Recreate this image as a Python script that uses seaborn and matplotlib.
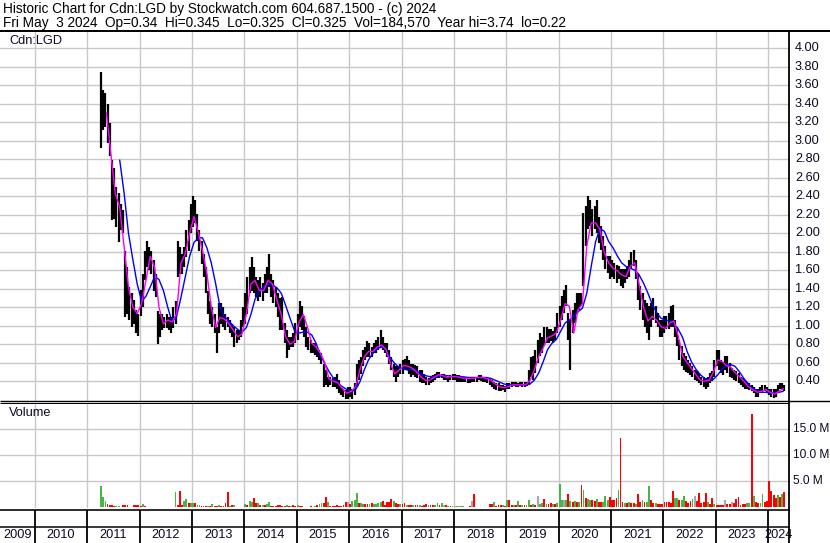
import numpy as np
import pandas as pd
import matplotlib
matplotlib.use("Agg")
import matplotlib.pyplot as plt
import matplotlib.transforms as mtrans
from matplotlib.lines import Line2D
import seaborn as sns

# ---------------------------------------------------------------- data
# Half-monthly price range (periods start on the 1st / 15th), Apr 2011 .. May 2024
high = [
    # 2011 (from Apr 1)
    3.74, 3.55, 3.51, 3.40, 3.19, 2.79, 2.70, 2.50, 2.43, 2.32, 2.25, 1.81, 1.63, 1.42, 1.35, 1.28, 1.17, 1.13,
    # 2012
    1.39, 1.56, 1.81, 1.92, 1.85, 1.81, 1.71, 1.56, 1.16, 1.13, 1.13, 1.09, 1.13, 1.09, 1.09, 1.20, 1.27, 1.92, 1.85, 1.78, 1.85, 2.03, 2.14, 2.32,
    # 2013
    2.40, 2.36, 2.21, 2.03, 1.92, 1.78, 1.63, 1.38, 1.27, 1.20, 1.13, 0.99, 1.24, 1.24, 1.20, 1.13, 1.09, 1.06, 1.02, 0.99, 0.95, 0.95, 1.06, 1.20,
    # 2014
    1.35, 1.53, 1.63, 1.74, 1.63, 1.53, 1.49, 1.53, 1.46, 1.56, 1.63, 1.78, 1.56, 1.49, 1.42, 1.35, 1.30, 1.31, 1.03, 0.95, 0.88, 0.88, 0.92, 1.03,
    # 2015
    1.13, 1.27, 1.21, 1.10, 0.99, 0.88, 0.84, 0.81, 0.81, 0.77, 0.74, 0.70, 0.59, 0.52, 0.45, 0.45, 0.43, 0.45, 0.48, 0.41, 0.34, 0.32, 0.30, 0.34,
    # 2016
    0.34, 0.32, 0.38, 0.59, 0.63, 0.66, 0.74, 0.77, 0.83, 0.81, 0.77, 0.81, 0.84, 0.88, 0.95, 0.88, 0.81, 0.81, 0.74, 0.66, 0.59, 0.56, 0.56, 0.59,
    # 2017
    0.63, 0.64, 0.67, 0.63, 0.59, 0.59, 0.57, 0.56, 0.52, 0.52, 0.48, 0.45, 0.43, 0.45, 0.47, 0.48, 0.50, 0.50, 0.48, 0.48, 0.47, 0.45, 0.47, 0.48,
    # 2018
    0.48, 0.47, 0.47, 0.45, 0.45, 0.45, 0.45, 0.44, 0.45, 0.45, 0.45, 0.47, 0.47, 0.45, 0.45, 0.45, 0.43, 0.41, 0.39, 0.38, 0.38, 0.36, 0.36, 0.35,
    # 2019
    0.38, 0.38, 0.39, 0.39, 0.39, 0.38, 0.39, 0.39, 0.39, 0.39, 0.52, 0.66, 0.67, 0.74, 0.85, 0.92, 0.88, 0.99, 0.99, 0.96, 0.96, 0.94, 0.99, 1.14,
    # 2020
    1.21, 1.32, 1.39, 1.44, 1.14, 1.06, 1.17, 1.24, 1.35, 1.35, 1.35, 2.22, 2.29, 2.40, 2.36, 2.26, 2.29, 2.36, 2.18, 2.08, 1.97, 1.86, 1.75, 1.75,
    # 2021
    1.71, 1.68, 1.66, 1.64, 1.61, 1.61, 1.61, 1.64, 1.71, 1.80, 1.82, 1.71, 1.57, 1.43, 1.35, 1.28, 1.24, 1.21, 1.24, 1.30, 1.21, 1.14, 1.06, 1.06,
    # 2022
    1.10, 1.10, 1.14, 1.21, 1.22, 1.06, 0.99, 0.85, 0.78, 0.70, 0.67, 0.63, 0.60, 0.56, 0.52, 0.51, 0.49, 0.45, 0.45, 0.43, 0.45, 0.49, 0.51, 0.63,
    # 2023
    0.74, 0.74, 0.63, 0.61, 0.67, 0.67, 0.60, 0.54, 0.52, 0.51, 0.49, 0.45, 0.43, 0.41, 0.39, 0.38, 0.36, 0.34, 0.32, 0.32, 0.34, 0.36, 0.36, 0.34,
    # 2024
    0.32, 0.31, 0.31, 0.32, 0.36, 0.38, 0.38, 0.36,
]
low = [
    # 2011
    2.92, 3.12, 3.15, 2.97, 2.83, 2.14, 2.15, 2.07, 1.90, 2.03, 2.00, 1.09, 1.13, 1.06, 0.99, 1.02, 0.92, 0.89,
    # 2012
    1.10, 1.20, 1.49, 1.63, 1.60, 1.56, 1.38, 1.31, 0.80, 0.88, 0.95, 0.98, 0.98, 0.95, 0.92, 0.98, 1.02, 1.53, 1.56, 1.56, 1.63, 1.74, 1.81, 2.00,
    # 2013
    2.07, 2.11, 1.92, 1.81, 1.67, 1.53, 1.35, 1.13, 1.02, 0.99, 0.92, 0.70, 0.92, 1.02, 0.99, 0.95, 0.99, 0.92, 0.88, 0.77, 0.81, 0.84, 0.88, 0.99,
    # 2014
    1.02, 1.13, 1.35, 1.38, 1.35, 1.31, 1.27, 1.31, 1.27, 1.35, 1.35, 1.42, 1.31, 1.24, 1.20, 1.09, 0.95, 0.95, 0.81, 0.65, 0.74, 0.77, 0.77, 0.81,
    # 2015
    0.84, 0.99, 0.95, 0.88, 0.77, 0.74, 0.70, 0.70, 0.68, 0.66, 0.63, 0.59, 0.34, 0.36, 0.34, 0.36, 0.34, 0.34, 0.31, 0.27, 0.25, 0.23, 0.21, 0.21,
    # 2016
    0.23, 0.21, 0.25, 0.34, 0.41, 0.48, 0.56, 0.63, 0.66, 0.66, 0.66, 0.70, 0.70, 0.74, 0.77, 0.74, 0.70, 0.66, 0.59, 0.52, 0.45, 0.39, 0.45, 0.48,
    # 2017
    0.48, 0.52, 0.52, 0.48, 0.45, 0.47, 0.45, 0.43, 0.39, 0.38, 0.38, 0.36, 0.36, 0.38, 0.39, 0.41, 0.43, 0.43, 0.43, 0.41, 0.41, 0.39, 0.41, 0.41,
    # 2018
    0.41, 0.39, 0.39, 0.39, 0.39, 0.39, 0.38, 0.38, 0.39, 0.39, 0.39, 0.41, 0.40, 0.39, 0.39, 0.38, 0.36, 0.34, 0.32, 0.30, 0.29, 0.29, 0.30, 0.28,
    # 2019
    0.31, 0.32, 0.34, 0.35, 0.34, 0.34, 0.35, 0.34, 0.34, 0.35, 0.36, 0.45, 0.41, 0.49, 0.60, 0.67, 0.70, 0.78, 0.81, 0.81, 0.83, 0.81, 0.85, 0.92,
    # 2020
    0.99, 1.06, 1.14, 1.21, 0.85, 0.52, 0.92, 1.03, 1.14, 1.17, 1.21, 1.43, 1.86, 2.04, 2.08, 1.97, 2.04, 2.00, 1.89, 1.82, 1.71, 1.61, 1.57, 1.50,
    # 2021
    1.53, 1.50, 1.46, 1.50, 1.43, 1.41, 1.46, 1.50, 1.53, 1.61, 1.64, 1.50, 1.28, 1.17, 1.06, 0.99, 0.92, 0.85, 0.99, 1.06, 1.03, 0.99, 0.88, 0.88,
    # 2022
    0.92, 0.96, 0.96, 0.99, 0.99, 0.88, 0.78, 0.63, 0.56, 0.52, 0.50, 0.49, 0.47, 0.45, 0.41, 0.40, 0.38, 0.36, 0.34, 0.32, 0.34, 0.38, 0.40, 0.45,
    # 2023
    0.56, 0.52, 0.49, 0.47, 0.52, 0.49, 0.45, 0.43, 0.41, 0.40, 0.38, 0.36, 0.34, 0.32, 0.31, 0.30, 0.29, 0.27, 0.23, 0.23, 0.27, 0.27, 0.29, 0.27,
    # 2024
    0.25, 0.23, 0.22, 0.23, 0.27, 0.31, 0.31, 0.29,
]
# Largest daily volume (millions) in each half-month and its bar colour (g up, r down, n unchanged)
volume = [
    4.0, 2.0, 1.3, 0.7, 0.5, 0.5, 0.3, 0.25, 0.25, 0.1, 0.5, 0.5, 0.5, 0.1, 0.1, 0.5, 0.5, 0.5,
    0.3, 0.75, 0.2, 0.15, 0.05, 0.05, 0.1, 0.15, 0.05, 0.05, 0.1, 0.05, 0.1, 0.05, 0.05, 0.1, 3.0, 0.4, 3.2, 0.5, 1.3, 1.7, 0.8, 0.9,
    0.9, 0.9, 0.4, 0.4, 0.3, 0.2, 0.3, 0.2, 0.3, 0.6, 0.2, 0.2, 0.4, 0.2, 0.3, 0.8, 3.0, 0.3, 0.4, 0.4, 0.15, 0.15, 0.15, 0.15,
    0.6, 0.5, 1.2, 1.1, 1.9, 0.9, 0.9, 0.4, 0.5, 0.4, 0.7, 1.0, 0.3, 0.3, 0.3, 0.5, 0.4, 0.3, 0.3, 0.5, 0.3, 0.3, 0.4, 0.2,
    0.4, 0.2, 0.2, 0.15, 0.15, 0.15, 0.2, 0.15, 0.3, 0.5, 0.6, 0.9, 0.8, 2.0, 1.0, 0.3, 0.3, 0.3, 0.4, 0.3, 0.3, 0.5, 1.0, 1.0,
    0.6, 1.2, 1.5, 2.7, 0.8, 0.8, 0.6, 0.7, 0.7, 0.7, 0.8, 0.6, 0.7, 0.9, 1.0, 1.2, 0.5, 1.0, 1.0, 1.6, 1.3, 0.8, 0.7, 0.7,
    0.6, 0.9, 0.5, 0.5, 0.5, 0.4, 0.5, 0.5, 0.4, 0.3, 0.5, 0.6, 0.4, 0.4, 0.4, 0.5, 0.8, 0.5, 0.8, 0.5, 0.4, 0.3, 0.3, 0.2,
    0.3, 0.3, 0.2, 0.2, 0.2, 0.15, 0.1, 0.2, 1.3, 2.5, 0.15, 0.15, 0.1, 0.1, 0.1, 0.15, 0.6, 0.6, 1.0, 0.3, 0.5, 0.4, 0.4, 0.3,
    1.4, 1.4, 0.4, 0.4, 0.5, 1.2, 0.4, 0.5, 0.5, 0.4, 1.5, 0.4, 0.6, 0.5, 2.2, 0.6, 0.8, 1.7, 0.7, 0.6, 0.8, 0.6, 0.6, 0.8,
    4.5, 1.5, 1.4, 1.5, 2.65, 1.2, 1.0, 1.2, 1.0, 1.0, 4.3, 3.4, 1.8, 1.6, 1.5, 1.4, 1.3, 1.7, 1.0, 1.0, 1.0, 2.2, 1.5, 2.0,
    1.5, 1.5, 1.9, 3.3, 13.3, 1.0, 0.8, 0.8, 1.0, 0.8, 0.8, 0.7, 2.65, 1.0, 1.4, 1.0, 1.0, 4.1, 1.5, 0.8, 0.8, 0.7, 0.6, 0.6,
    1.0, 1.0, 1.0, 0.8, 3.2, 1.8, 1.8, 1.5, 1.5, 2.1, 1.3, 0.8, 1.3, 1.6, 2.1, 1.2, 2.8, 0.8, 1.0, 2.8, 1.0, 0.6, 1.8, 0.6,
    0.5, 0.5, 0.4, 0.5, 1.4, 0.6, 0.6, 1.0, 0.8, 1.7, 2.0, 0.5, 0.6, 0.6, 0.8, 0.8, 17.9, 2.2, 1.0, 0.8, 0.8, 2.5, 1.0, 1.3,
    5.0, 3.1, 2.3, 1.8, 2.4, 2.0, 2.5, 3.0,
]
volume_dir = (
    "gggrrrrggrrrrrrrrr"
    "rgrrrrrrgrrrrgrggrrrggrg"
    "grggrrrgrgrrgrrrrgrgrgrr"
    "grggrrgrgrggrrrrrrrgrgrr"
    "grrrgrrrgrggrrgrrrrrrrrn"
    "rgggrggrrgrggggrrrrrgrrg"
    "rrgrrgrrgrrrgrrggrgnrgrg"
    "ngngggrrnrrrrrrrrrgrrrgr"
    "grrgrgrgrggrgrnggrgrrgrg"
    "ggngrgrgrgrgrggrrgrrgggr"
    "rrrgrrgrgrrgrrgrggrrgrrr"
    "rrrrrggrggrrrgnrrrrrgrrg"
    "rrrrnrrnrrrrrrggrgrrggrr"
    "rrrrgrgr"
)
# Monthly readings of the short (magenta) moving average, from May 2011
ma_fast = [
    3.30, 2.85, 2.43, 2.28, 1.85, 1.42, 1.20, 1.13,
    1.24, 1.50, 1.75, 1.63, 1.20, 1.02, 1.06, 1.04, 1.13, 1.67, 1.78, 2.00,
    2.18, 2.00, 1.81, 1.56, 1.20, 0.98, 1.09, 1.07, 1.02, 0.95, 0.88, 0.91,
    1.13, 1.45, 1.49, 1.38, 1.38, 1.49, 1.45, 1.28, 1.12, 0.88, 0.80, 0.83,
    1.03, 1.12, 0.99, 0.81, 0.77, 0.70, 0.60, 0.42, 0.40, 0.38, 0.32, 0.27,
    0.29, 0.34, 0.52, 0.66, 0.72, 0.72, 0.77, 0.79, 0.74, 0.59, 0.48, 0.52,
    0.57, 0.56, 0.54, 0.50, 0.45, 0.41, 0.41, 0.44, 0.47, 0.46, 0.44, 0.45,
    0.45, 0.44, 0.43, 0.43, 0.43, 0.44, 0.44, 0.43, 0.41, 0.37, 0.34, 0.33,
    0.34, 0.36, 0.36, 0.36, 0.36, 0.41, 0.52, 0.67, 0.76, 0.87, 0.89, 0.92,
    1.06, 1.24, 1.21, 0.92, 1.17, 1.24, 1.86, 2.11, 2.11, 2.04, 1.79, 1.68,
    1.62, 1.59, 1.55, 1.53, 1.64, 1.68, 1.45, 1.20, 1.05, 1.10, 1.06, 0.99,
    0.97, 1.03, 1.05, 0.88, 0.67, 0.60, 0.54, 0.47, 0.41, 0.40, 0.41, 0.50,
    0.63, 0.61, 0.57, 0.55, 0.49, 0.45, 0.40, 0.34, 0.31, 0.28, 0.29, 0.31,
    0.28, 0.26, 0.29, 0.32,
]
# Monthly readings of the long (blue) moving average, from Aug 2011
ma_slow = [
    2.79, 2.43, 2.00, 1.71, 1.45,
    1.26, 1.32, 1.42, 1.53, 1.50, 1.38, 1.20, 1.04, 1.10, 1.30, 1.53, 1.75,
    1.90, 1.95, 1.95, 1.84, 1.68, 1.45, 1.20, 1.10, 1.05, 1.00, 0.96, 0.93,
    0.98, 1.12, 1.28, 1.38, 1.42, 1.45, 1.44, 1.41, 1.35, 1.22, 1.08, 0.95,
    0.92, 0.93, 0.93, 0.90, 0.81, 0.68, 0.59, 0.50, 0.43, 0.38, 0.34, 0.31,
    0.29, 0.31, 0.39, 0.52, 0.63, 0.70, 0.75, 0.77, 0.74, 0.65, 0.59, 0.55,
    0.53, 0.52, 0.53, 0.51, 0.48, 0.46, 0.45, 0.45, 0.45, 0.46, 0.46, 0.45,
    0.45, 0.45, 0.445, 0.44, 0.44, 0.44, 0.44, 0.44, 0.43, 0.41, 0.39, 0.37,
    0.36, 0.36, 0.36, 0.36, 0.36, 0.37, 0.41, 0.49, 0.61, 0.74, 0.81, 0.85,
    0.94, 1.03, 1.06, 1.10, 1.15, 1.19, 1.35, 1.64, 1.91, 2.05, 2.02, 1.91,
    1.84, 1.75, 1.68, 1.64, 1.62, 1.60, 1.55, 1.46, 1.35, 1.23, 1.14, 1.08,
    1.06, 1.05, 1.02, 0.96, 0.87, 0.72, 0.61, 0.53, 0.47, 0.43, 0.41, 0.42,
    0.47, 0.53, 0.57, 0.58, 0.56, 0.50, 0.43, 0.37, 0.32, 0.30, 0.28, 0.28,
    0.27, 0.27, 0.28, 0.29,
]
price_ticks = [4.00, 3.80, 3.60, 3.40, 3.20, 3.00, 2.80, 2.60, 2.40, 2.20, 2.00,
               1.80, 1.60, 1.40, 1.20, 1.00, 0.80, 0.60, 0.40]
volume_ticks = [5.0, 10.0, 15.0]
year_labels = [str(y) for y in range(2009, 2025)]
header_1 = "Historic Chart for Cdn:LGD by Stockwatch.com 604.687.1500 - (c) 2024"
header_2 = "Fri May  3 2024  Op=0.34  Hi=0.345  Lo=0.325  Cl=0.325  Vol=184,570  Year hi=3.74  lo=0.22"

assert len(high) == len(low) == len(volume) == len(volume_dir), (len(high), len(low), len(volume), len(volume_dir))


def dec_year(dates):
    dates = pd.DatetimeIndex(dates)
    return np.asarray(dates.year + (dates.dayofyear - 1) / np.where(dates.is_leap_year, 366, 365), dtype=float)


half_start = pd.date_range("2011-04-01", periods=len(high), freq="SMS")
t_half = dec_year(half_start + pd.Timedelta(days=7))
t_fast = dec_year(pd.date_range("2011-05-01", periods=len(ma_fast), freq="MS") + pd.Timedelta(days=14))
t_slow = dec_year(pd.date_range("2011-08-01", periods=len(ma_slow), freq="MS") + pd.Timedelta(days=14))
col_map = {"g": "#46b446", "r": "#ff0000", "n": "#a8a8a8"}
vol_colors = [col_map[c] for c in volume_dir]

# ---------------------------------------------------------------- figure
sns.set_style("white")
plt.rcParams["font.family"] = ["Liberation Sans", "DejaVu Sans"]
W, H = 830, 543
fig = plt.figure(figsize=(W / 100, H / 100), dpi=100)
FS = 9.2
TXT = "#0a0a20"
GRID = "#c8c8c8"
X0, X1 = 2009.334, 2024.387
PR = 788.5  # right edge of plotting area (px)


def px_axes(x0, y0, x1, y1):
    a = fig.add_axes([x0 / W, 1 - y1 / H, (x1 - x0) / W, (y1 - y0) / H])
    a.set_axis_off()
    return a


def fig_line(xs, ys, lw):
    fig.add_artist(Line2D([x / W for x in xs], [1 - y / H for y in ys], color="black",
                          lw=lw * 0.72, transform=fig.transFigure, solid_capstyle="butt"))


# price panel
axp = px_axes(0, 31.5, PR, 400.5)
axp.set_xlim(X0, X1)
axp.set_ylim(0.191, 4.18)
for v in price_ticks:
    axp.axhline(v, color=GRID, lw=1.0, zorder=0)
for yr in range(2010, 2025):
    axp.axvline(yr, color=GRID, lw=1.0, zorder=0)
axp.vlines(t_half, low, high, color="black", lw=1.6, zorder=2)
sns.lineplot(x=t_slow, y=ma_slow, color="#0000ff", lw=1.0, ax=axp, zorder=3)
sns.lineplot(x=t_fast, y=ma_fast, color="#ff00ff", lw=1.0, ax=axp, zorder=4)
axp.set_axis_off()
tr_p = mtrans.blended_transform_factory(axp.transAxes, axp.transData)
for v in price_ticks:
    axp.text(1 + 6.5 / PR, v, f"{v:.2f}", transform=tr_p, ha="left", va="center",
             fontsize=FS, color=TXT, clip_on=False)
fig.text(9 / W, 1 - 41.5 / H, "Cdn:LGD", ha="left", va="center", fontsize=FS, color=TXT)

# volume panel
axv = px_axes(0, 402.5, PR, 508)
axv.set_xlim(X0, X1)
axv.set_ylim(-0.1, 20.0)
for v in volume_ticks:
    axv.axhline(v, color=GRID, lw=1.0, zorder=0)
for yr in range(2010, 2025):
    axv.axvline(yr, color=GRID, lw=1.0, zorder=0)
axv.bar(t_half, volume, width=0.85 / 24, color=vol_colors, linewidth=0, zorder=2,
        antialiased=False)
tr_v = mtrans.blended_transform_factory(axv.transAxes, axv.transData)
for v in volume_ticks:
    axv.text(1 + 4.0 / PR, v, f"{v:.1f} M", transform=tr_v, ha="left", va="center",
             fontsize=FS - 0.6, color=TXT, clip_on=False)
fig.text(9 / W, 1 - 413 / H, "Volume", ha="left", va="center", fontsize=FS, color=TXT)

# date strip
axs = px_axes(0, 510, PR, 543)
axs.set_xlim(X0, X1)
axs.set_ylim(543, 510)
axs.vlines(range(2010, 2025), 510, 543, color="black", lw=1.3)
edges = [X0] + list(range(2010, 2025)) + [X1]
for lab, a, b in zip(year_labels, edges[:-1], edges[1:]):
    axs.text((a + b) / 2, 535.5, lab, ha="center", va="center", fontsize=FS, color=TXT, clip_on=False)

# frame lines
fig_line([0, W], [30.8, 30.8], 2.0)
fig_line([0, W], [400.9, 400.9], 1.4)
fig_line([0, PR], [402.9, 402.9], 1.0)
fig_line([0, 789.5], [510.0, 510.0], 1.6)
fig_line([0, 789.5], [526.6, 526.6], 1.5)
fig_line([789.3, 789.3], [30, 543], 1.8)

# header
fig.text(3 / W, 1 - 8.5 / H, header_1, ha="left", va="center", fontsize=9.8, color="black")
fig.text(3 / W, 1 - 22.5 / H, header_2, ha="left", va="center", fontsize=9.8, color="black")

fig.savefig("out.png", dpi=100, facecolor="white")
